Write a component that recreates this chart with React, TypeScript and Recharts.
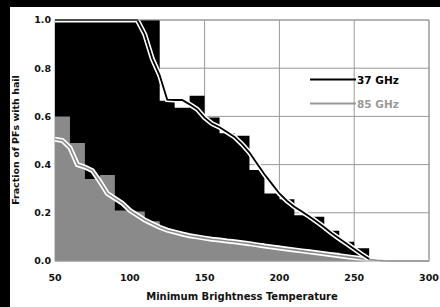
import React from 'react';
import { ComposedChart, Area, Line, XAxis, YAxis, CartesianGrid } from 'recharts';

const temps = [50, 55, 60, 65, 70, 75, 80, 85, 90, 95, 100, 105, 110, 115, 120, 125, 130, 135, 140, 145, 150, 155, 160, 165, 170, 175, 180, 185, 190, 195, 200, 205, 210, 215, 220, 225, 230, 235, 240, 245, 250, 255, 260, 265, 270, 275, 280, 285, 290, 295, 300];
const binStarts = [50, 60, 70, 80, 90, 100, 110, 120, 130, 140, 150, 160, 170, 180, 190, 200, 210, 220, 230, 240, 250, 260, 270, 280, 290];
const hist37 = [1, 1, 1, 1, 1, 1, 1, 0.665, 0.636, 0.686, 0.595, 0.53, 0.52, 0.378, 0.28, 0.256, 0.19, 0.184, 0.126, 0.08, 0.053, 0, 0, 0, 0];
const hist85 = [0.6, 0.49, 0.34, 0.357, 0.21, 0.205, 0.165, 0.13, 0.11, 0.1, 0.095, 0.087, 0.08, 0.075, 0.065, 0.055, 0.05, 0.042, 0.035, 0.025, 0.015, 0.005, 0, 0, 0];
const line37 = [1, 1, 1, 1, 1, 1, 1, 1, 1, 1, 1, 1, 0.94, 0.84, 0.77, 0.67, 0.668, 0.668, 0.65, 0.63, 0.595, 0.57, 0.555, 0.535, 0.515, 0.485, 0.45, 0.405, 0.36, 0.32, 0.28, 0.25, 0.225, 0.205, 0.185, 0.163, 0.14, 0.115, 0.093, 0.072, 0.05, 0.028, 0.008, null, null, null, null, null, null, null, null];
const line85 = [0.505, 0.5, 0.47, 0.4, 0.39, 0.375, 0.33, 0.28, 0.26, 0.24, 0.21, 0.19, 0.17, 0.155, 0.14, 0.128, 0.12, 0.112, 0.105, 0.1, 0.095, 0.09, 0.087, 0.083, 0.08, 0.076, 0.072, 0.067, 0.062, 0.058, 0.054, 0.05, 0.046, 0.042, 0.038, 0.034, 0.03, 0.026, 0.022, 0.018, 0.014, 0.01, 0.006, 0.003, 0.001, 0, 0, 0, 0, 0, 0];
const xTicks = [50, 100, 150, 200, 250, 300];
const yTicks = [0, 0.2, 0.4, 0.6, 0.8, 1.0];
const xMinorTicks = [50, 60, 70, 80, 90, 100, 110, 120, 130, 140, 150, 160, 170, 180, 190, 200, 210, 220, 230, 240, 250, 260, 270, 280, 290, 300];
const yMinorTicks = [0, 0.05, 0.1, 0.15, 0.2, 0.25, 0.3, 0.35, 0.4, 0.45, 0.5, 0.55, 0.6, 0.65, 0.7, 0.75, 0.8, 0.85, 0.9, 0.95, 1.0];
const seriesNames = ['37 GHz', '85 GHz'];

const binValue = (arr: number[], t: number) => {
  let idx = 0;
  for (let i = 0; i < binStarts.length; i++) if (binStarts[i] <= t) idx = i;
  return arr[idx];
};

const data = temps.map((t, i) => ({
  t,
  h37: binValue(hist37, t),
  h85: binValue(hist85, t),
  l37: line37[i],
  l85: line85[i],
}));

const FONT = 'DejaVu Sans, Verdana, sans-serif';
const GRID = '#9a9a9a';

export default function App() {
  return (
    <div style={{ position: 'absolute', left: 0, top: 0, width: 440, height: 307, background: '#fff', overflow: 'hidden' }}>
      <ComposedChart width={440} height={307} data={data} margin={{ top: 19, right: 10, bottom: 0, left: 0 }}>
        <CartesianGrid stroke={GRID} strokeWidth={1} xAxisId={0} yAxisId={0} />
        <XAxis
          dataKey="t"
          type="number"
          domain={[50, 300]}
          ticks={xTicks}
          tickLine={false}
          tickSize={0}
          tickMargin={13}
          axisLine={{ stroke: GRID }}
          height={46}
          tick={{ fill: '#111', fontSize: 9.5, fontWeight: 'bold', fontFamily: FONT }}
          interval={0}
        />
        <XAxis
          xAxisId="t"
          orientation="top"
          dataKey="t"
          type="number"
          domain={[50, 300]}
          ticks={xMinorTicks}
          tick={false}
          tickSize={-3}
          tickLine={{ stroke: GRID }}
          axisLine={{ stroke: GRID }}
          height={1}
          interval={0}
        />
        <YAxis
          type="number"
          domain={[0, 1]}
          ticks={yTicks}
          tickFormatter={(v: number) => v.toFixed(1)}
          tickLine={false}
          tickSize={0}
          tickMargin={4}
          axisLine={false}
          width={55}
          tick={{ fill: '#111', fontSize: 9.5, fontWeight: 'bold', fontFamily: FONT }}
          interval={0}
        />
        <YAxis
          yAxisId="r"
          orientation="right"
          type="number"
          domain={[0, 1]}
          ticks={yMinorTicks}
          tick={false}
          tickSize={-3}
          tickLine={{ stroke: GRID }}
          axisLine={{ stroke: GRID }}
          width={1}
          interval={0}
        />
        <Area dataKey="h37" type="stepAfter" fill="#000" fillOpacity={1} stroke="none" isAnimationActive={false} baseValue={0} />
        <Area dataKey="h85" type="stepAfter" fill="#8a8a8a" fillOpacity={1} stroke="none" isAnimationActive={false} baseValue={0} />
        <Line dataKey="l85" type="linear" stroke="#fff" strokeWidth={5} dot={false} isAnimationActive={false} />
        <Line dataKey="l85" type="linear" stroke="#8a8a8a" strokeWidth={1.6} dot={false} isAnimationActive={false} />
        <Line dataKey="l37" type="linear" stroke="#fff" strokeWidth={5} dot={false} isAnimationActive={false} />
        <Line dataKey="l37" type="linear" stroke="#000" strokeWidth={1.8} dot={false} isAnimationActive={false} />
        <text
          transform="rotate(-90)"
          x={-140}
          y={15}
          textAnchor="middle"
          dominantBaseline="central"
          fontFamily={FONT}
          fontWeight="bold"
          fontSize={9.5}
          fill="#111"
        >
          Fraction of PFs with hail
        </text>
        <text x={242} y={296} textAnchor="middle" dominantBaseline="central" fontFamily={FONT} fontWeight="bold" fontSize={10} fill="#111">
          Minimum Brightness Temperature
        </text>
        <line x1={310} x2={356} y1={79.5} y2={79.5} stroke="#000" strokeWidth={1.8} />
        <text x={357} y={79.5} dominantBaseline="central" fontFamily={FONT} fontWeight="bold" fontSize={10.5} fill="#000">
          {seriesNames[0]}
        </text>
        <line x1={310} x2={356} y1={103.5} y2={103.5} stroke="#999" strokeWidth={1.8} />
        <text x={357} y={103.5} dominantBaseline="central" fontFamily={FONT} fontWeight="bold" fontSize={10.5} fill="#999">
          {seriesNames[1]}
        </text>
      </ComposedChart>
      <div style={{ position: 'absolute', left: 0, top: 0, width: 440, height: 7, background: '#000' }} />
      <div style={{ position: 'absolute', left: 0, top: 0, width: 10, height: 307, background: '#000' }} />
    </div>
  );
}
